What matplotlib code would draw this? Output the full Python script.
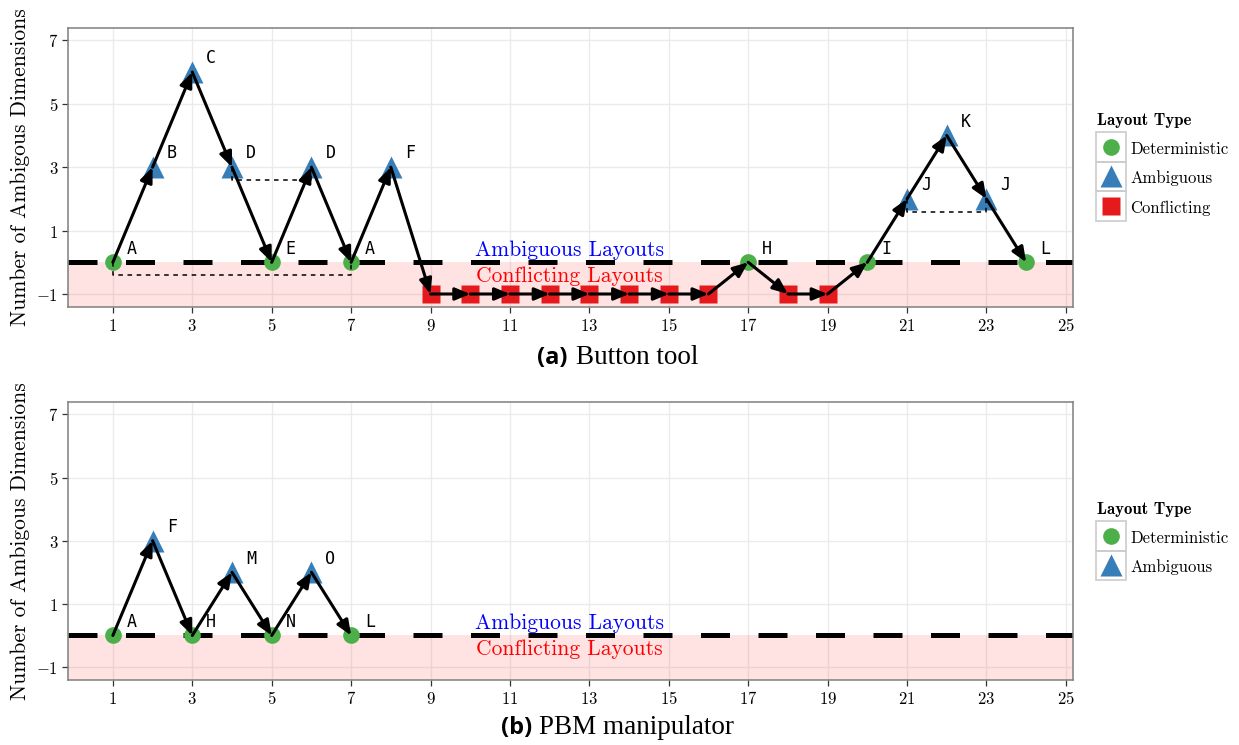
import numpy as np
import matplotlib.pyplot as plt
from matplotlib.patches import Rectangle
from matplotlib.lines import Line2D

plt.rcParams['mathtext.fontset'] = 'cm'

# (a) Button tool
a_x = list(range(1, 25))
a_y = [0, 3, 6, 3, 0, 3, 0, 3, -1, -1, -1, -1, -1, -1, -1, -1, 0, -1, -1, 0, 2, 4, 2, 0]
a_type = ['D', 'A', 'A', 'A', 'D', 'A', 'D', 'A', 'C', 'C', 'C', 'C', 'C', 'C', 'C', 'C',
          'D', 'C', 'C', 'D', 'A', 'A', 'A', 'D']
a_lab = ['A', 'B', 'C', 'D', 'E', 'D', 'A', 'F', '', '', '', '', '', '', '', '',
         'H', '', '', 'I', 'J', 'K', 'J', 'L']
a_brackets = [(1, 7, 0), (4, 6, 3), (21, 23, 2)]

# (b) PBM manipulator
b_x = [1, 2, 3, 4, 5, 6, 7]
b_y = [0, 3, 0, 2, 0, 2, 0]
b_type = ['D', 'A', 'D', 'A', 'D', 'A', 'D']
b_lab = ['A', 'F', 'H', 'M', 'N', 'O', 'L']
b_brackets = []

x_ticks = list(range(1, 26, 2))
y_ticks = [-1, 1, 3, 5, 7]

kinds = {'D': ('Deterministic', 'o', '#4DAF4A', 12),
         'A': ('Ambiguous', '^', '#377EB8', 16),
         'C': ('Conflicting', 's', '#E41A1C', 13.5)}

W, H = 1239, 745
fig = plt.figure(figsize=(W / 100, H / 100), dpi=100)


def fx(px):
    return px / W


def fy(py):
    return 1 - py / H


def panel(ax, xs, ys, types, labs, brackets):
    ax.set_xlim(-0.13, 25.18)
    ax.set_ylim(-1.41, 7.39)
    ax.set_xticks(x_ticks)
    ax.set_xticklabels(['$%d$' % v for v in x_ticks])
    ax.set_yticks(y_ticks)
    ax.set_yticklabels(['$%d$' % v for v in y_ticks])
    ax.grid(True, color='#EBEBEB', lw=1.0)
    ax.set_axisbelow(True)
    for s in ax.spines.values():
        s.set_color('#7F7F7F')
        s.set_linewidth(1.1)
    ax.tick_params(length=4.5, width=0.9, color='#333333', labelsize=12, pad=2.5)
    ax.axhspan(-5, 0, color='red', alpha=0.11, lw=0, zorder=1)
    ax.axhline(0, color='black', lw=3.6, ls=(0, (5.8, 5.7)), zorder=2)
    ax.text(12.5, 0.38, 'Ambiguous Layouts', color='blue', ha='center', va='center',
            family='cmr10', fontsize=15.5, zorder=6)
    ax.text(12.5, -0.44, 'Conflicting Layouts', color='red', ha='center', va='center',
            family='cmr10', fontsize=15.5, zorder=6)
    ax.set_ylabel('Number of Ambigous Dimensions', family='cmr10', fontsize=15.5)
    ax.yaxis.set_label_coords((30 - 68) / 1005, 0.5)

    for x, y, t in zip(xs, ys, types):
        name, m, c, ms = kinds[t]
        ax.plot(x, y, marker=m, color=c, ms=ms, mec='none', ls='none', zorder=3)

    for x1, x2, y in brackets:
        ax.plot([x1, x1, x2, x2], [y, y - 0.4, y - 0.4, y], color='black', lw=1.1,
                ls=(0, (3, 3)), zorder=3.5)

    for i in range(len(xs) - 1):
        ax.annotate('', xy=(xs[i + 1], ys[i + 1]), xytext=(xs[i], ys[i]),
                    arrowprops=dict(arrowstyle='-|>,head_length=0.6,head_width=0.25',
                                    color='black', lw=2.2, shrinkA=0, shrinkB=0,
                                    mutation_scale=15),
                    zorder=4)

    for x, y, lab in zip(xs, ys, labs):
        if lab:
            ax.text(x + 0.48, y + 0.275, lab, family='DejaVu Sans Mono', fontsize=12,
                    ha='center', va='baseline', zorder=6)


def legend(top, keys):
    fig.text(fx(1097), fy(top - 7), 'Layout Type', family='cmb10', fontsize=12,
             ha='left', va='baseline')
    for i, k in enumerate(keys):
        name, m, c, ms = kinds[k]
        y0 = top + i * 29.5
        fig.add_artist(Rectangle((fx(1096), fy(y0 + 29.5)), 29.5 / W, 29.5 / H,
                                 transform=fig.transFigure, fill=False,
                                 ec='#CCCCCC', lw=1.2))
        fig.add_artist(Line2D([fx(1111)], [fy(y0 + 14.75)], marker=m, color=c, ms=ms,
                              mec='none', ls='none', transform=fig.transFigure))
        fig.text(fx(1130), fy(y0 + 21.8), name, family='cmr10', fontsize=12,
                 ha='left', va='baseline')


ax1 = fig.add_axes([68 / W, 1 - 307 / H, 1005 / W, 279 / H])
panel(ax1, a_x, a_y, a_type, a_lab, a_brackets)
legend(132, ['D', 'A', 'C'])

ax2 = fig.add_axes([68 / W, 1 - 680 / H, 1005 / W, 278 / H])
panel(ax2, b_x, b_y, b_type, b_lab, b_brackets)
legend(521, ['D', 'A'])

fig.text(fx(568), fy(364), '(a)', family='Open Sans', weight='bold', fontsize=17,
         ha='right', va='baseline')
fig.text(fx(576), fy(364), 'Button tool', family='Liberation Serif', fontsize=19.5,
         ha='left', va='baseline')
fig.text(fx(532), fy(734), '(b)', family='Open Sans', weight='bold', fontsize=17,
         ha='right', va='baseline')
fig.text(fx(539), fy(734), 'PBM manipulator', family='Liberation Serif', fontsize=19.5,
         ha='left', va='baseline')

fig.savefig('out.png', dpi=100)
